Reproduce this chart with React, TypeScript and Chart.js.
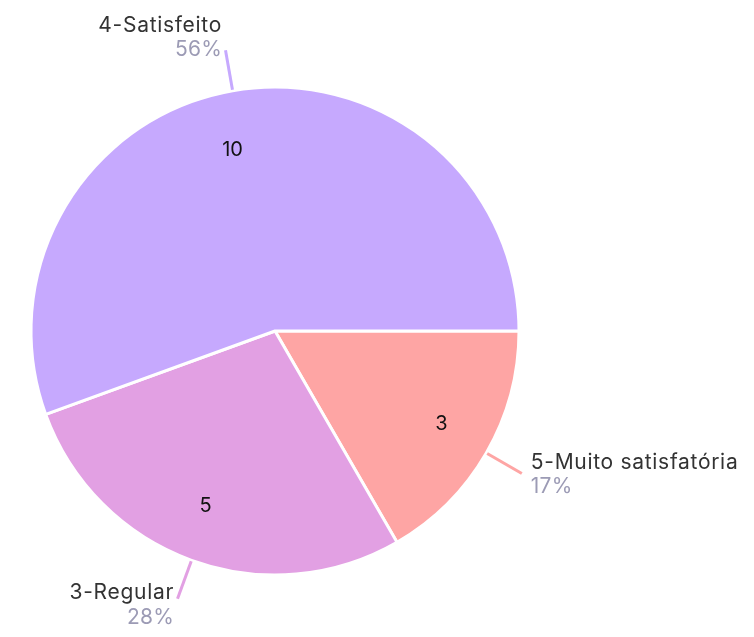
import React, { useEffect, useRef } from "react";
import { Chart, registerables } from "chart.js";

Chart.register(...registerables);

const categories = ["5-Muito satisfatória", "3-Regular", "4-Satisfeito"];
const values = [3, 5, 10];
const colors = ["#FEA5A4", "#E2A0E3", "#C6A9FE"];

const FONT = "Inter, 'Noto Sans', sans-serif";

const labelPlugin = {
  id: "pieLabels",
  afterDatasetsDraw(chart: any) {
    const ctx = chart.ctx as CanvasRenderingContext2D;
    const meta = chart.getDatasetMeta(0);
    const data = chart.data.datasets[0].data as number[];
    const total = data.reduce((a, b) => a + b, 0);
    meta.data.forEach((arc: any, i: number) => {
      const { x, y, startAngle, endAngle, outerRadius } = arc.getProps(
        ["x", "y", "startAngle", "endAngle", "outerRadius"],
        true
      );
      const mid = (startAngle + endAngle) / 2;
      const cos = Math.cos(mid);
      const sin = Math.sin(mid);
      const right = cos >= 0;
      // inner value
      ctx.save();
      ctx.fillStyle = "#111";
      ctx.font = `20px ${FONT}`;
      ctx.textAlign = right ? "left" : "right";
      ctx.textBaseline = "middle";
      const ir = outerRadius * 0.758;
      ctx.fillText(String(data[i]), x + cos * ir, y + sin * ir + 1);
      // leader line
      const r1 = outerRadius + 1;
      const r2 = outerRadius + 41;
      const ex = x + cos * r2;
      const ey = y + sin * r2;
      ctx.strokeStyle = colors[i];
      ctx.lineWidth = 3;
      ctx.beginPath();
      ctx.moveTo(x + cos * r1, y + sin * r1);
      ctx.lineTo(ex, ey);
      ctx.stroke();
      // outer text
      ctx.textAlign = right ? "left" : "right";
      const tx = right ? ex + 9 : ex - 3.5;
      const pct = Math.round((data[i] / total) * 100) + "%";
      let nameY: number, pctY: number;
      if (sin < -0.5) {
        nameY = ey - 25;
        pctY = ey - 1;
      } else if (!right) {
        nameY = ey - 6.5;
        pctY = ey + 18.5;
      } else {
        nameY = ey - 10.5;
        pctY = ey + 13;
      }
      ctx.font = `21px ${FONT}`;
      (ctx as any).letterSpacing = "0.7px";
      ctx.fillStyle = "#333333";
      ctx.fillText(chart.data.labels[i], tx, nameY);
      (ctx as any).letterSpacing = "0.2px";
      ctx.font = `21px ${FONT}`;
      ctx.fillStyle = "#9C9BB5";
      ctx.fillText(pct, tx, pctY);
      (ctx as any).letterSpacing = "0px";
      ctx.restore();
    });
  },
};

export default function App() {
  const ref = useRef<HTMLCanvasElement>(null);
  useEffect(() => {
    document.body.style.margin = "0";
    const chart = new Chart(ref.current!, {
      type: "pie",
      data: {
        labels: categories,
        datasets: [
          {
            data: values,
            backgroundColor: colors,
            borderColor: "#ffffff",
            borderWidth: 3,
            hoverOffset: 0,
          },
        ],
      },
      options: {
        responsive: false,
        animation: false,
        rotation: 90,
        radius: 244,
        layout: { padding: { left: 0, right: 204, top: 25, bottom: 0 } },
        plugins: { legend: { display: false }, tooltip: { enabled: false } },
      },
      plugins: [labelPlugin],
    });
    return () => chart.destroy();
  }, []);
  return (
    <div style={{ position: "absolute", left: 0, top: 0, width: 754, height: 637 }}>
      <canvas ref={ref} width={754} height={637} />
    </div>
  );
}
